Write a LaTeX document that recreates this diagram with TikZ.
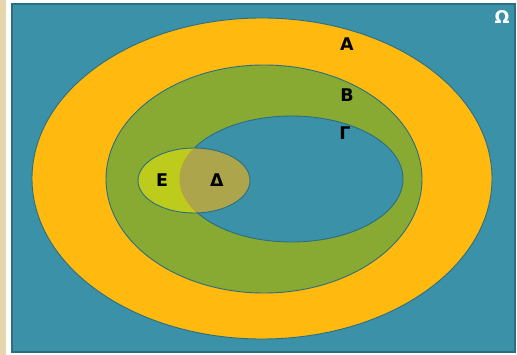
\documentclass[tikz,border=0pt]{standalone}
\usepackage{fontspec}
\setmainfont{DejaVu Sans}
\definecolor{omegablue}{HTML}{3A91A8}
\definecolor{edgeblue}{HTML}{2B6E82}
\definecolor{aorange}{HTML}{FFB90F}
\definecolor{bgreen}{HTML}{88AA33}
\definecolor{eyellow}{HTML}{BCCB1C}
\definecolor{dtan}{HTML}{ADA54C}
\definecolor{beige}{HTML}{E6D6AE}
\begin{document}
\begin{tikzpicture}[x=1pt,y=-1pt,
  setlabel/.style={font=\fontsize{17.5}{20}\selectfont\bfseries, text=black, inner sep=0pt},
  setedge/.style={draw=edgeblue, line width=0.9pt}]
\useasboundingbox (0,0) rectangle (517,355);
\fill[white] (0,0) rectangle (517,355);
\fill[beige] (0,0) rectangle (6,355);
% universe
\fill[omegablue, draw=edgeblue, line width=1.2pt] (12,4) rectangle (515,352);
% A
\fill[aorange, setedge] (262,178.5) ellipse [x radius=230, y radius=160.5];
% B
\fill[bgreen, setedge] (264,179) ellipse [x radius=158, y radius=114];
% Gamma
\fill[omegablue, setedge] (291.5,179) ellipse [x radius=111.5, y radius=63];
% E
\fill[eyellow] (194,180.5) ellipse [x radius=56, y radius=32.5];
% Delta = E cap Gamma
\begin{scope}
  \clip (291.5,179) ellipse [x radius=111.5, y radius=63];
  \fill[dtan] (194,180.5) ellipse [x radius=56, y radius=32.5];
\end{scope}
\begin{scope}
  \clip (194,180.5) ellipse [x radius=56, y radius=32.5];
  \draw[draw=dtan!80!orange, line width=0.8pt] (291.5,179) ellipse [x radius=111.5, y radius=63];
\end{scope}
\draw[setedge] (194,180.5) ellipse [x radius=56, y radius=32.5];
% labels
\node[setlabel, text=white] (omega) at (502,17) {Ω};
\node[setlabel] (la) at (347,44) {Α};
\node[setlabel] (lb) at (347,95) {Β};
\node[setlabel] (lg) at (345,133) {Γ};
\node[setlabel] (le) at (162,180) {Ε};
\node[setlabel] (ld) at (217,180) {Δ};
\end{tikzpicture}
\end{document}
